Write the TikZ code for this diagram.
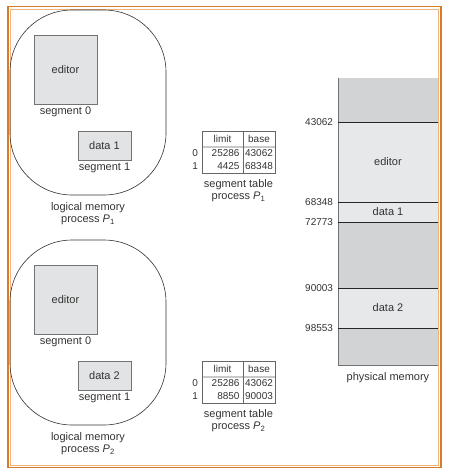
\documentclass[tikz,border=0pt]{standalone}
\usepackage{fontspec}
\setmainfont{Liberation Sans}
\usetikzlibrary{positioning}
\usetikzlibrary{matrix}

\definecolor{framedark}{RGB}{214,122,44}
\definecolor{framelight}{RGB}{238,180,124}
\definecolor{freegray}{RGB}{209,211,212}
\definecolor{usedgray}{RGB}{231,232,233}
\definecolor{boxgray}{RGB}{226,227,228}

\tikzset{
  every node/.style={font=\fontsize{11}{12}\selectfont, text=black!80, inner sep=0pt, outer sep=0pt},
  blob/.style={draw=black!80, line width=0.6pt, rounded corners=62pt, minimum width=156pt, minimum height=185pt},
  segbox/.style={draw=black!55, fill=boxgray, line width=0.8pt},
  caption/.style={align=center},
  tabline/.style={draw=black!60, line width=0.6pt},
  freeblk/.style={fill=freegray, minimum width=100pt},
  usedblk/.style={fill=usedgray, minimum width=100pt},
  memline/.style={draw=black!85, line width=0.7pt},
  addr/.style={font=\fontsize{10}{11}\selectfont},
  segtable/.style={matrix of nodes
    , inner sep=0pt
    , nodes={ minimum height = 13pt
            , font = \fontsize{10}{11}\selectfont
            }
    , column 1/.style={nodes={text width=34pt, inner xsep=3.5pt, align=right}}
    , column 2/.style={nodes={text width=28pt, inner xsep=2pt, align=center}}
    , row 1/.style={nodes={minimum height=16pt, align=center}}
    , column sep=0pt
    , row sep=0pt
    , anchor=north west}
}

\begin{document}
\begin{tikzpicture}[x=1pt,y=-1pt]

  \useasboundingbox (0,0) rectangle (457,472);

  % frame
  \draw[framedark, line width=1.6pt] (8,6.5) rectangle (441,467.5);
  \draw[framelight, line width=0.9pt] (10.5,9) rectangle (438.5,465);

  % process P1
  \node (logA) [blob] at (88,102.5) {};
  \node (edA) [segbox, minimum width=63pt, minimum height=69pt] at (65.5,69.5) {editor};
  \node (segA0) [below=3pt of edA] {segment 0};
  \node (datA) [segbox, minimum width=53pt, minimum height=29pt] at (104.5,145.5) {data 1};
  \node (segA1) [below=3pt of datA] {segment 1};
  \node (capA) [caption, below=8pt of logA] {logical memory\\process \textit{P}\textsubscript{1}};

  \matrix (tabA) [segtable] at (202,131)
  {
    limit & base  \\
    25286 & 43062 \\
    4425  & 68348 \\
  };
  \draw[tabline] (tabA.north west) rectangle (tabA.south east);
  \draw[tabline] (tabA-1-1.south west) -- (tabA-1-2.south east);
  \draw[tabline] (tabA-1-1.north east) -- (tabA-3-1.south east);
  \node (tabA0) [addr, left=4pt of tabA-2-1] {0};
  \node (tabA1) [addr, left=4pt of tabA-3-1] {1};
  \node (capTA) [caption, below=7pt of tabA] {segment table\\process \textit{P}\textsubscript{1}};

  % process P2
  \node (logB) [blob] at (88,332.5) {};
  \node (edB) [segbox, minimum width=63pt, minimum height=69pt] at (65.5,299.5) {editor};
  \node (segB0) [below=3pt of edB] {segment 0};
  \node (datB) [segbox, minimum width=53pt, minimum height=29pt] at (104.5,375.5) {data 2};
  \node (segB1) [below=3pt of datB] {segment 1};
  \node (capB) [caption, below=8pt of logB] {logical memory\\process \textit{P}\textsubscript{2}};

  \matrix (tabB) [segtable] at (202,361)
  {
    limit & base  \\
    25286 & 43062 \\
    8850  & 90003 \\
  };
  \draw[tabline] (tabB.north west) rectangle (tabB.south east);
  \draw[tabline] (tabB-1-1.south west) -- (tabB-1-2.south east);
  \draw[tabline] (tabB-1-1.north east) -- (tabB-3-1.south east);
  \node (tabB0) [addr, left=4pt of tabB-2-1] {0};
  \node (tabB1) [addr, left=4pt of tabB-3-1] {1};
  \node (capTB) [caption, below=7pt of tabB] {segment table\\process \textit{P}\textsubscript{2}};

  % physical memory
  \node (mfree0) [freeblk, minimum height=44pt] at (388,100) {};
  \node (meditor) [usedblk, minimum height=80pt, below=0pt of mfree0] {editor};
  \node (mdata1) [usedblk, minimum height=20pt, below=0pt of meditor] {data 1};
  \node (mfree1) [freeblk, minimum height=66pt, below=0pt of mdata1] {};
  \node (mdata2) [usedblk, minimum height=40pt, below=0pt of mfree1] {data 2};
  \node (mfree2) [freeblk, minimum height=37pt, below=0pt of mdata2] {};

  \draw[black!55, line width=0.6pt] (mfree0.north west) -- (mfree2.south west) -- (mfree2.south east);
  \foreach \blk in {meditor, mdata1, mfree1, mdata2, mfree2}
    \draw[memline] (\blk.north west) -- (\blk.north east);

  \node (a43062) [addr, left=5pt of meditor.north west] {43062};
  \node (a68348) [addr, left=5pt of mdata1.north west] {68348};
  \node (a72773) [addr, left=5pt of mfree1.north west] {72773};
  \node (a90003) [addr, left=5pt of mdata2.north west] {90003};
  \node (a98553) [addr, left=5pt of mfree2.north west] {98553};

  \node (capM) [below=8pt of mfree2] {physical memory};

\end{tikzpicture}
\end{document}
